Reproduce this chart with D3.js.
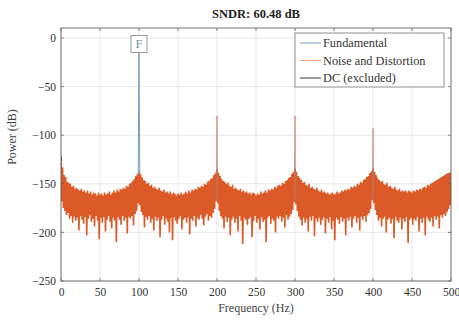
<!DOCTYPE html>
<html>
<head>
<meta charset="utf-8">
<script src="https://cdn.jsdelivr.net/npm/d3@7"></script>
<style>
  html, body { margin: 0; padding: 0; background: #fff; }
  svg { display: block; }
</style>
</head>
<body>
<svg id="chart" width="459" height="320"></svg>
<script>
// ---------------- data ----------------
const chartTitle = "SNDR: 60.48 dB";
const xTicks = [0, 50, 100, 150, 200, 250, 300, 350, 400, 450, 500];
const yTicks = [0, -50, -100, -150, -200, -250];

// Noise spectrum, upper values at even frequencies 0,2,...,500 Hz (dB)
const noiseEven = [
  -122,-133,-141,-143,-148,-149,-150,-153,-152,-155,-154,-156,-157,-155,-158,-157,-159,-157,-160,-158,-161,-159,-160,-162,-159,-161,-160,-162,-159,-161,-160,-158,-161,-159,-157,-159,-156,-158,-155,-156,-154,-155,-152,-153,-150,-149,-147,-145,-142,-140,
  -137,-140,-143,-146,-147,-150,-149,-152,-151,-154,-153,-155,-156,-154,-157,-158,-156,-159,-158,-160,-158,-161,-159,-160,-162,-160,-161,-159,-161,-160,-158,-160,-157,-159,-156,-157,-155,-156,-153,-154,-152,-153,-150,-151,-148,-147,-145,-144,-141,-139,
  -135,-139,-142,-145,-147,-148,-150,-149,-152,-153,-151,-155,-154,-156,-157,-155,-158,-157,-159,-158,-160,-159,-161,-159,-160,-162,-160,-161,-158,-160,-159,-157,-159,-156,-157,-155,-156,-153,-154,-152,-151,-152,-149,-150,-147,-146,-144,-143,-140,-138,
  -134,-138,-142,-144,-146,-149,-148,-151,-152,-150,-154,-153,-155,-156,-154,-157,-158,-156,-159,-158,-160,-159,-161,-160,-159,-161,-160,-158,-160,-159,-157,-158,-156,-157,-155,-156,-153,-154,-152,-153,-150,-151,-148,-149,-146,-145,-143,-142,-139,-137,
  -134,-138,-141,-144,-146,-148,-147,-150,-151,-149,-153,-152,-154,-155,-153,-156,-157,-155,-158,-157,-158,-157,-159,-157,-158,-159,-157,-158,-156,-157,-155,-156,-154,-153,-154,-151,-152,-150,-149,-148,-147,-146,-145,-144,-143,-142,-141,-140,-139,-139,
  -138
];
// Noise spectrum, lower values at odd frequencies 1,3,...,499 Hz (dB)
const noiseOdd = [
  -168,-175,-178,-182,-180,-186,-183,-190,-184,-188,
  -185,-198,-183,-187,-191,-184,-203,-186,-182,-189,
  -186,-194,-183,-188,-207,-185,-190,-184,-199,-187,
  -183,-189,-196,-185,-188,-210,-184,-187,-192,-183,
  -188,-185,-201,-184,-186,-183,-193,-181,-178,-170,
  -172,-179,-182,-195,-184,-187,-183,-190,-186,-198,
  -184,-188,-185,-205,-187,-183,-192,-186,-189,-200,
  -185,-208,-184,-188,-191,-186,-183,-197,-187,-185,
  -190,-184,-202,-186,-188,-183,-194,-185,-187,-182,
  -186,-193,-184,-181,-188,-183,-185,-180,-176,-168,
  -170,-178,-183,-186,-196,-184,-189,-185,-203,-187,
  -184,-190,-186,-199,-183,-188,-212,-185,-187,-192,
  -186,-184,-205,-188,-183,-190,-186,-197,-184,-189,
  -187,-210,-185,-183,-191,-186,-188,-200,-184,-186,
  -183,-189,-185,-195,-182,-187,-184,-181,-177,-169,
  -171,-178,-184,-187,-193,-185,-190,-186,-199,-184,
  -188,-183,-204,-186,-189,-185,-192,-187,-184,-201,
  -186,-190,-184,-197,-188,-208,-185,-187,-191,-184,
  -189,-186,-203,-185,-188,-184,-195,-186,-183,-190,
  -185,-198,-184,-187,-183,-189,-182,-180,-176,-167,
  -170,-177,-182,-188,-185,-194,-186,-184,-200,-187,
  -185,-191,-186,-206,-184,-188,-190,-185,-197,-186,
  -189,-184,-211,-187,-185,-192,-186,-188,-184,-199,
  -186,-190,-185,-203,-184,-187,-189,-185,-194,-183,
  -187,-184,-196,-182,-185,-181,-183,-179,-176,-172
];
// Harmonic distortion spurs (part of noise and distortion series)
const harmonicFreq = [200, 300, 400];
const harmonicPower = [-80, -80, -93];
// Fundamental
const fundFreq = [99, 100, 101];
const fundPower = [-140, -3, -140];
// DC (excluded)
const dcFreq = [0, 1];
const dcPower = [-122, -126];

const legendLabels = ["Fundamental", "Noise and Distortion", "DC (excluded)"];
const seriesColors = ["#7aa0b9", "#dc5a27", "#3a3a3a"];

// ---------------- build series ----------------
const noise = [];
for (let f = 0; f <= 500; f++) {
  noise.push({ f: f, p: (f % 2 === 0) ? noiseEven[f / 2] : noiseOdd[(f - 1) / 2] });
}
const spurs = harmonicFreq.map((hf, i) => [
  { f: hf - 1, p: noiseOdd[(hf - 2) / 2] },
  { f: hf, p: harmonicPower[i] },
  { f: hf + 1, p: noiseOdd[hf / 2] }
]);
const fund = fundFreq.map((f, i) => ({ f: f, p: fundPower[i] }));
const dc = dcFreq.map((f, i) => ({ f: f, p: dcPower[i] }));

// ---------------- layout ----------------
const svg = d3.select("#chart");
const L = 61, R = 451, T = 28, B = 281;
const serif = "'Liberation Serif', 'DejaVu Serif', serif";

const x = d3.scaleLinear().domain([0, 500]).range([L, R]);
const y = d3.scaleLinear().domain([-250, 10.3]).range([B, T]);

// grid
const grid = svg.append("g");
xTicks.forEach(t => grid.append("line")
  .attr("x1", x(t)).attr("x2", x(t)).attr("y1", T).attr("y2", B)
  .attr("stroke", "#e3e3e3").attr("stroke-width", 0.8));
yTicks.forEach(t => grid.append("line")
  .attr("x1", L).attr("x2", R).attr("y1", y(t)).attr("y2", y(t))
  .attr("stroke", "#e3e3e3").attr("stroke-width", 0.8));

svg.append("clipPath").attr("id", "clip")
  .append("rect").attr("x", L).attr("y", T).attr("width", R - L).attr("height", B - T);

const line = d3.line().x(d => x(d.f)).y(d => y(d.p));
const plot = svg.append("g").attr("clip-path", "url(#clip)");

plot.append("path").datum(noise)
  .attr("d", line).attr("fill", "none")
  .attr("stroke", seriesColors[1]).attr("stroke-width", 1.6).attr("stroke-linejoin", "bevel");

plot.selectAll(".spur").data(spurs).join("path")
  .attr("d", line).attr("fill", "none")
  .attr("stroke", "#b9786a").attr("stroke-width", 0.8).attr("stroke-opacity", 0.85);

plot.append("path").datum(fund)
  .attr("d", line).attr("fill", "none")
  .attr("stroke", seriesColors[0]).attr("stroke-width", 1);

plot.append("path").datum(dc)
  .attr("d", line).attr("fill", "none")
  .attr("stroke", seriesColors[2]).attr("stroke-width", 1);

// F marker box at fundamental peak
const fx = x(fundFreq[1]), fy = y(fundPower[1]) + 3;
svg.append("rect").attr("x", fx - 8).attr("y", fy - 8.5).attr("width", 16).attr("height", 17)
  .attr("fill", "#fff").attr("stroke", "#8a8a8a").attr("stroke-width", 0.9);
svg.append("text").attr("x", fx).attr("y", fy + 4.5).attr("text-anchor", "middle")
  .attr("font-family", serif).attr("font-size", 12.5).attr("fill", "#6f93ad").text("F");

// axes
const xAxis = d3.axisBottom(x).tickValues(xTicks).tickSize(0).tickPadding(7)
  .tickFormat(d3.format("d"));
const yAxis = d3.axisLeft(y).tickValues(yTicks).tickSize(0).tickPadding(5)
  .tickFormat(d => d < 0 ? "\u2212" + Math.abs(d) : String(d));

const gx = svg.append("g").attr("transform", `translate(0,${B})`).call(xAxis);
const gy = svg.append("g").attr("transform", `translate(${L},0)`).call(yAxis);
[gx, gy].forEach(g => {
  g.select(".domain").remove();
  g.selectAll("text").attr("font-family", serif).attr("font-size", 11.5).attr("fill", "#333");
});

// inner ticks on all sides
const tk = svg.append("g").attr("stroke", "#555").attr("stroke-width", 0.7);
xTicks.forEach(t => {
  tk.append("line").attr("x1", x(t)).attr("x2", x(t)).attr("y1", B).attr("y2", B - 3);
  tk.append("line").attr("x1", x(t)).attr("x2", x(t)).attr("y1", T).attr("y2", T + 3);
});
yTicks.forEach(t => {
  tk.append("line").attr("x1", L).attr("x2", L + 3).attr("y1", y(t)).attr("y2", y(t));
  tk.append("line").attr("x1", R).attr("x2", R - 3).attr("y1", y(t)).attr("y2", y(t));
});

// frame
svg.append("rect").attr("x", L).attr("y", T).attr("width", R - L).attr("height", B - T)
  .attr("fill", "none").attr("stroke", "#555").attr("stroke-width", 0.8);

// title and labels
svg.append("text").attr("x", (L + R) / 2).attr("y", 18).attr("text-anchor", "middle")
  .attr("font-family", serif).attr("font-weight", "bold").attr("font-size", 12.5)
  .attr("fill", "#222").text(chartTitle);
svg.append("text").attr("x", (L + R) / 2).attr("y", 312).attr("text-anchor", "middle")
  .attr("font-family", serif).attr("font-size", 12).attr("fill", "#444").text("Frequency (Hz)");
svg.append("text").attr("transform", "translate(16,137) rotate(-90)").attr("text-anchor", "middle")
  .attr("font-family", serif).attr("font-size", 12).attr("fill", "#444").text("Power (dB)");

// legend
const lg = svg.append("g");
lg.append("rect").attr("x", 295).attr("y", 33).attr("width", 149).attr("height", 54)
  .attr("fill", "#fff").attr("stroke", "#777").attr("stroke-width", 0.8);
const legendColors = [seriesColors[0], "#f0a878", seriesColors[2]];
legendLabels.forEach((lab, i) => {
  const ly = 43 + i * 17.5;
  lg.append("line").attr("x1", 300).attr("x2", 321).attr("y1", ly).attr("y2", ly)
    .attr("stroke", legendColors[i]).attr("stroke-width", 1);
  lg.append("text").attr("x", 323).attr("y", ly + 4).attr("font-family", serif)
    .attr("font-size", 12.3).attr("fill", "#333").text(lab);
});
</script>
</body>
</html>
